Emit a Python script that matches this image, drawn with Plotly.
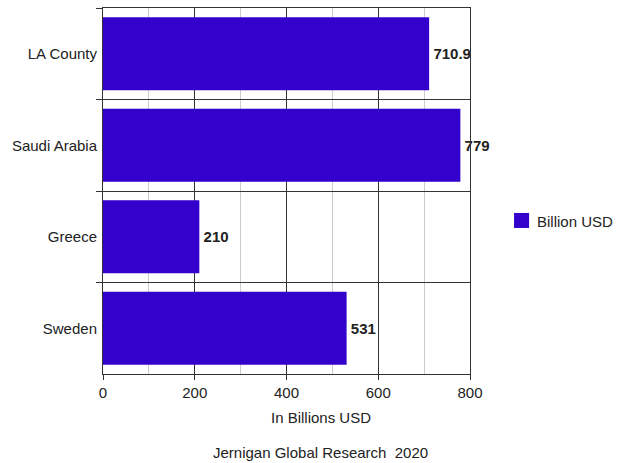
import plotly.graph_objects as go

# Economic output comparison
regions = ["LA County", "Saudi Arabia", "Greece", "Sweden"]
billion_usd = [710.9, 779, 210, 531]
x_ticks = [0, 200, 400, 600, 800]
series_name = "Billion USD"
x_title = "In Billions USD"
footer = "Jernigan Global Research  2020"

FONT = "Liberation Sans, Arial, sans-serif"
BAR_COLOR = "#3300cc"
DARK = "#333333"
TEXT = "#222222"

fig = go.Figure()
fig.add_trace(go.Bar(
    y=regions,
    x=billion_usd,
    orientation="h",
    name=series_name,
    marker=dict(color=BAR_COLOR, line=dict(width=0)),
    # a hair space keeps the value label a little clear of the bar end
    text=[f"\u200a{v:g}" for v in billion_usd],
    textposition="outside",
    textfont=dict(family=FONT, size=15, color=TEXT, weight="bold"),
    cliponaxis=False,
))

fig.update_layout(
    width=621,
    height=463,
    margin=dict(l=103, r=151, t=8, b=89, autoexpand=False),
    paper_bgcolor="white",
    plot_bgcolor="white",
    font=dict(family=FONT, size=15, color=TEXT),
    bargap=0.2,
    showlegend=False,
    xaxis=dict(
        range=[0, 800],
        tickvals=x_ticks,
        ticks="outside",
        ticklen=5,
        tickcolor=DARK,
        showgrid=True,
        gridcolor=DARK,
        gridwidth=1,
        minor=dict(dtick=100, showgrid=True, gridcolor="#cccccc", gridwidth=1),
        showline=True,
        linecolor=DARK,
        linewidth=1,
        mirror=True,
        zeroline=False,
        automargin=False,
        tickfont=dict(size=15, color=TEXT),
    ),
    yaxis=dict(
        type="category",
        autorange="reversed",
        tickson="boundaries",
        ticks="outside",
        ticklen=6,
        tickcolor=DARK,
        showgrid=True,
        gridcolor=DARK,
        gridwidth=1,
        showline=True,
        linecolor=DARK,
        linewidth=1,
        mirror=True,
        automargin=False,
        ticklabelstandoff=2,
        tickfont=dict(size=15, color=TEXT),
    ),
    # legend key drawn as a square swatch beside the series name
    shapes=[dict(
        type="rect", xref="paper", yref="paper",
        x0=1.120, x1=1.161, y0=0.399, y1=0.440,
        fillcolor=BAR_COLOR, line=dict(width=0),
    )],
    annotations=[
        dict(
            text=series_name, xref="paper", yref="paper",
            x=1.176, y=0.418, xanchor="left", yanchor="middle",
            showarrow=False, font=dict(size=15, color=TEXT),
        ),
        dict(
            text=x_title, xref="paper", yref="paper",
            x=0.594, y=-0.1175, xanchor="center", yanchor="middle",
            showarrow=False, font=dict(size=15, color=TEXT),
        ),
        dict(
            text=footer, xref="paper", yref="paper",
            x=0.594, y=-0.2158, xanchor="center", yanchor="middle",
            showarrow=False, font=dict(size=15, color=TEXT),
        ),
    ],
)

fig.write_html("out.html")
